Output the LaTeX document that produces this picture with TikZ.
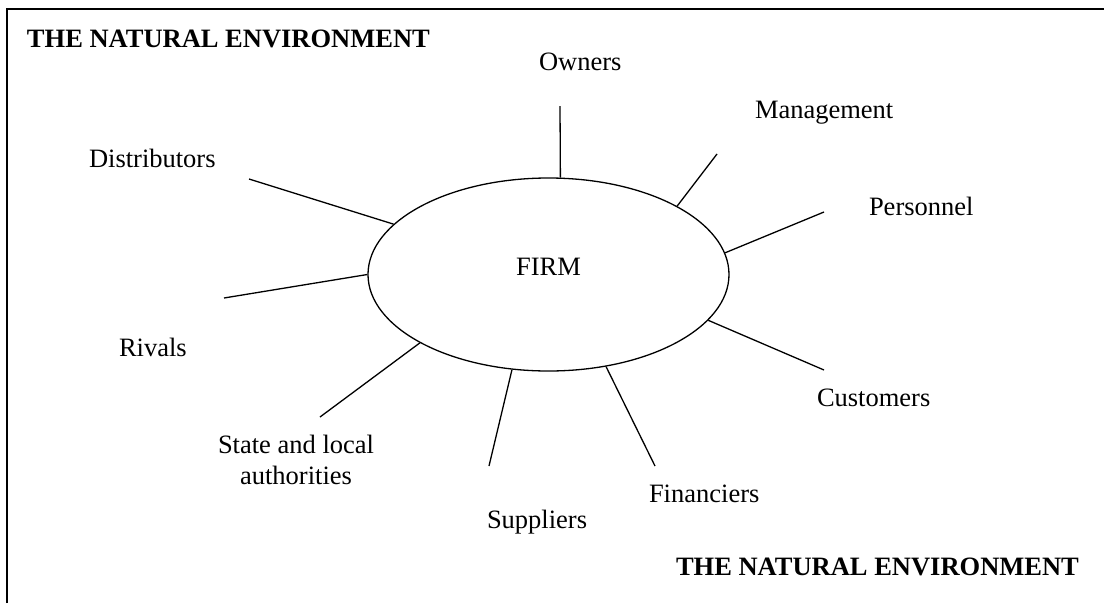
\documentclass[tikz,border=0pt]{standalone}
\usepackage{fontspec}
\setmainfont{Liberation Serif}
\usetikzlibrary{shapes.geometric}
\begin{document}
\begin{tikzpicture}[x=1pt,y=-1pt,
  lbl/.style={inner sep=0pt, outer sep=0pt, anchor=base west, font=\fontsize{26.5}{31}\selectfont},
  envtitle/.style={lbl, font=\fontsize{26.5}{31}\selectfont\bfseries},
  spoke/.style={line width=1.3pt},
  framerule/.style={line width=2pt}]
\useasboundingbox (0,0) rectangle (1104,603);
% frame (top and left edges)
\draw[framerule] (6.5,603) -- (6.5,8.5) -- (1104,8.5);
% the firm
\node[draw, ellipse, line width=1.3pt, minimum width=361pt, minimum height=193pt,
      inner sep=0pt, text height=17.5pt, text depth=15pt,
      font=\fontsize{26.5}{31}\selectfont] (firm) at (548.5,274.5) {FIRM};
% labels
\node[envtitle] (t1) at (27,47) {THE NATURAL ENVIRONMENT};
\node[envtitle] (t2) at (676,575) {THE NATURAL ENVIRONMENT};
\node[lbl] (owners) at (539,70) {Owners};
\node[lbl] (mgmt) at (755,118) {Management};
\node[lbl] (pers) at (869,215) {Personnel};
\node[lbl] (cust) at (817,406) {Customers};
\node[lbl] (fin) at (649,502) {Financiers};
\node[lbl] (sup) at (487,528) {Suppliers};
\node[lbl, align=center, anchor=base] (state) at (296,484) {State and local\\authorities};
\node[lbl] (riv) at (119,356) {Rivals};
\node[lbl] (dist) at (89,167) {Distributors};
% free ends of the spokes
\coordinate (oE) at (560,106);
\coordinate (mE) at (717,154);
\coordinate (pE) at (824,212);
\coordinate (cE) at (824,370);
\coordinate (fE) at (655,466);
\coordinate (sE) at (489,466);
\coordinate (stE) at (320,417);
\coordinate (rE) at (224,298);
\coordinate (dE) at (249,179);
% spokes
\draw[spoke] (oE) -- (firm.83.2);
\draw[spoke] (mE) -- (firm.28.7);
\draw[spoke] (pE) -- (firm.7.8);
\draw[spoke] (cE) -- (firm.-16.8);
\draw[spoke] (fE) -- (firm.-58.3);
\draw[spoke] (sE) -- (firm.249.3);
\draw[spoke] (stE) -- (firm.208.7);
\draw[spoke] (rE) -- (firm.180);
\draw[spoke] (dE) -- (firm.162.8);
\end{tikzpicture}
\end{document}
